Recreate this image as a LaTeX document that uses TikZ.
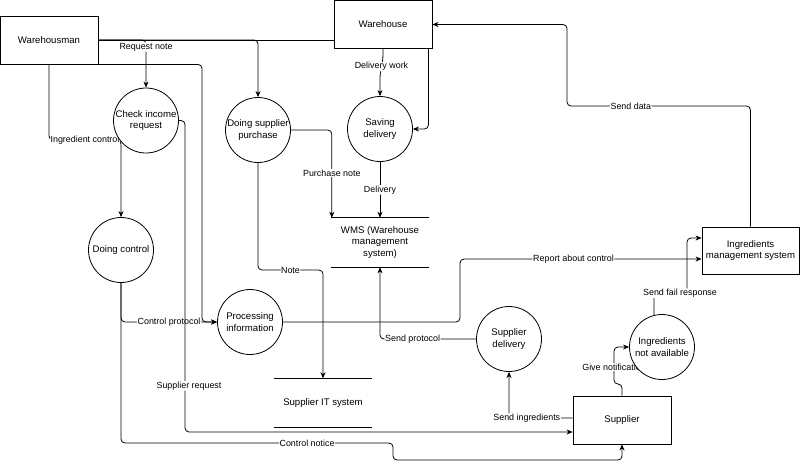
\documentclass[tikz,border=0pt]{standalone}
\usepackage{fontspec}
\setmainfont{Liberation Sans}
\usetikzlibrary{arrows.meta,calc}
\pgfdeclarelayer{bg}
\pgfsetlayers{bg,main}
\begin{document}
\begin{tikzpicture}[x=1pt,y=-1pt,
  every node/.style={font=\fontsize{9.6}{11.5}\selectfont},
  ebox/.style={draw, line width=0.8pt, minimum width=98pt, minimum height=48pt, fill=white, align=center},
  pcirc/.style={draw, circle, line width=0.8pt, minimum size=65pt, inner sep=0pt, fill=white, align=center},
  storebox/.style={minimum width=98pt, minimum height=49pt, align=center},
  elabel/.style={font=\fontsize{8.9}{10}\selectfont, fill=white, inner sep=0.6pt},
  flowline/.style={line width=0.8pt, rounded corners=4pt},
  flow/.style={flowline, -{Stealth[length=6pt,width=5pt,inset=1.8pt]}}]
\useasboundingbox (0,0) rectangle (800,467);

% nodes
\node[ebox] (wm) at (49,40) {Warehousman};
\node[ebox] (wh) at (383,24.5) {Warehouse};
\node[pcirc] (check) at (146,120.5) {Check income\\request};
\node[pcirc] (dsp) at (258,130) {Doing supplier\\purchase};
\node[pcirc] (save) at (380,129) {Saving\\delivery};
\node[pcirc] (ctrl) at (121,250) {Doing control};
\node[pcirc] (pinfo) at (250,322) {Processing\\information};
\node[storebox] (wms) at (380,242.5) {WMS (Warehouse\\management\\system)};
\draw[line width=0.8pt] (wms.north west) -- (wms.north east) (wms.south west) -- (wms.south east);
\node[storebox] (sit) at (323,403) {Supplier IT system};
\draw[line width=0.8pt] (sit.north west) -- (sit.north east) (sit.south west) -- (sit.south east);
\node[pcirc] (sdel) at (509,339) {Supplier\\delivery};
\node[pcirc] (ina) at (662,347) {Ingredients\\not available};
\node[ebox] (sup) at (622,420) {Supplier};
\node[ebox, minimum width=97pt, minimum height=47pt] (ims) at (750.5,250.5) {Ingredients\\management system};

% waypoints
\coordinate (k1) at (121,140);
\coordinate (k2) at (202,322);
\coordinate (k3) at (393,443);
\coordinate (k4) at (393,460);
\coordinate (k5) at (185,432);
\coordinate (k6) at ($(wms.north west)+(1,0)$);
\coordinate (k7) at (567,106);
\coordinate (k8) at (323,270);
\coordinate (k9) at (460,259);
\coordinate (k10) at (622,384);
\coordinate (k11) at (614,384);
\coordinate (k12) at ($(ina.center)+(-8,-31)$);
\coordinate (k13) at (687,293);

\begin{pgfonlayer}{bg}
\draw[flowline] (wm.east) -- (wm.east -| wh.west);
\draw[flow] (wm.east) -| node[elabel,pos=0.574]{Request note} (check.north);
\draw[flow] (wm.east) -| (dsp.north);
\draw[flow] (wm.south) |- node[elabel,pos=0.75]{Ingredient control} (k1) -- (ctrl.north);
\draw[flow] (wm.south east) -| (k2) -- (pinfo.west);
\draw[flow] (ctrl.south) |- node[elabel,pos=0.75]{Control protocol} (pinfo.west);
\draw[flow] (ctrl.south) |- node[elabel,pos=0.842]{Control notice} (k3) -- (k4) -| (sup.south);
\draw[flow] (check.east) -| node[elabel,pos=0.926,xshift=4pt]{Supplier request} (k5) -- (k5 -| sup.west);
\draw[flow] (dsp.east) -| node[elabel,pos=0.745]{Purchase note} (k6);
\draw[flow] (save.south) -- node[elabel]{Delivery} (save.south |- wms.north);
\draw[flow] (wh.south) -- ++(0,10) -- node[elabel]{Delivery work} ($(save.north)+(0,-22)$) -- (save.north);
\draw[flow] ($(wh.south east)+(-4,0)$) |- (save.east);
\draw[flow] (ims.north) |- node[elabel,pos=0.826]{Send data} (k7) |- (wh.east);
\draw[flow] (dsp.south) |- node[elabel,pos=0.75]{Note} (k8) -- (sit.north);
\draw[flow] (pinfo.east) -| (k9) -- node[elabel,pos=0.47]{Report about control} (k9 -| ims.west);
\draw[flow] (sdel.west) -| node[elabel,pos=0.33]{Send protocol} (wms.south);
\draw[flow] ($(sup.west)+(0,-2)$) -| node[elabel,pos=0.36]{Send ingredients} (sdel.south);
\draw[flow] (sup.north) -- (k10) -- (k11) -- node[elabel,pos=0.46]{Give notification} (k11 |- ina.west) -- (ina.west);
\draw[flow] (k12) |- node[elabel,pos=0.75,xshift=9.5pt]{Send fail response} (k13) |- ($(ims.west)+(0,-12.5)$);
\end{pgfonlayer}
\end{tikzpicture}
\end{document}
